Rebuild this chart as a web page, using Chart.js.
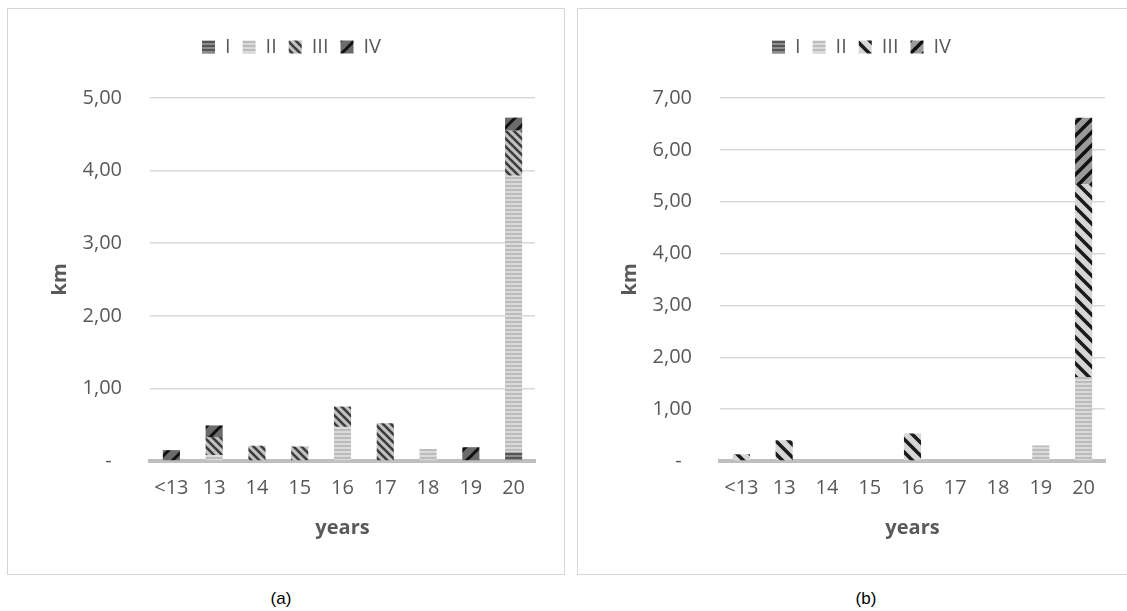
<!DOCTYPE html>
<html>
<head>
<meta charset="utf-8">
<script src="https://cdn.jsdelivr.net/npm/chart.js@4.4.1/dist/chart.umd.min.js"></script>
<style>
  html, body { margin: 0; padding: 0; background: #fff; width: 1127px; height: 611px; overflow: hidden; position: relative; }
  .box { position: absolute; top: 8px; width: 556px; height: 565px; border: 1px solid #d6d6d6; background: #fff; }
  #boxA { left: 7px; }
  #boxB { left: 577px; }
  .box canvas { position: absolute; left: 0; top: 0; }
  .cap { position: absolute; top: 589px; font-family: "Liberation Sans", Arial, sans-serif; font-size: 17px; color: #000; transform: translateX(-50%); }
</style>
</head>
<body>
<div class="box" id="boxA"><canvas id="cA" width="556" height="565"></canvas></div>
<div class="box" id="boxB"><canvas id="cB" width="556" height="565"></canvas></div>
<div class="cap" style="left:281px">(a)</div>
<div class="cap" style="left:866px">(b)</div>
<script>
// ---- data ----
const categories = ['<13', '13', '14', '15', '16', '17', '18', '19', '20'];
const seriesNames = ['I', 'II', 'III', 'IV'];

const a_I   = [0, 0, 0, 0, 0, 0, 0, 0, 0.12];
const a_II  = [0, 0.08, 0, 0, 0.47, 0, 0.165, 0, 3.81];
const a_III = [0, 0.25, 0.21, 0.20, 0.28, 0.52, 0, 0, 0.62];
const a_IV  = [0.15, 0.16, 0, 0, 0, 0, 0, 0.19, 0.18];

const b_I   = [0, 0, 0, 0, 0, 0, 0, 0, 0];
const b_II  = [0, 0, 0, 0, 0, 0, 0, 0.30, 1.62];
const b_III = [0.13, 0.40, 0, 0, 0.53, 0, 0, 0, 3.72];
const b_IV  = [0, 0, 0, 0, 0, 0, 0, 0, 1.28];

const yTicksA = [0, 1, 2, 3, 4, 5];
const yTicksB = [0, 1, 2, 3, 4, 5, 6, 7];

// ---- patterns ----
function makePattern(bg, fg, size, lw, type) {
  const c = document.createElement('canvas');
  c.width = size; c.height = size;
  const g = c.getContext('2d');
  g.fillStyle = bg; g.fillRect(0, 0, size, size);
  if (type === 'h') {
    g.fillStyle = fg; g.fillRect(0, 0, size, lw);
  } else {
    g.strokeStyle = fg; g.lineWidth = lw; g.lineCap = 'square';
    g.beginPath();
    for (const k of [-size, 0, size]) {
      if (type === '/') { g.moveTo(k, size); g.lineTo(k + size, 0); }
      else { g.moveTo(k, 0); g.lineTo(k + size, size); }
    }
    g.stroke();
  }
  return g.createPattern(c, 'repeat');
}

const txt = '#595959';
Chart.defaults.font.family = "'Open Sans', sans-serif";
Chart.defaults.color = txt;

const legendMargin = {
  id: 'legendMargin',
  beforeInit(chart) {
    const orig = chart.legend.fit;
    chart.legend.fit = function () { orig.call(this); this.height += 31; };
  }
};

function build(id, data, fills, yMax) {
  const datasets = data.map((d, i) => ({
    label: seriesNames[i],
    data: d,
    backgroundColor: fills[i],
    borderWidth: 0,
    categoryPercentage: 1.0,
    barPercentage: 0.4
  }));
  return new Chart(document.getElementById(id), {
    type: 'bar',
    data: { labels: categories, datasets },
    plugins: [legendMargin],
    options: {
      responsive: false,
      animation: false,
      devicePixelRatio: 1,
      layout: { padding: { top: 16, right: 29, left: 40, bottom: 0 } },
      plugins: {
        legend: {
          position: 'top',
          labels: { boxWidth: 13, boxHeight: 13, padding: 12, color: txt, font: { size: 20 } }
        },
        tooltip: { enabled: false }
      },
      scales: {
        x: {
          stacked: true,
          grid: { display: false, drawTicks: false },
          border: { display: true, color: '#bfbfbf', width: 4 },
          ticks: { color: txt, font: { size: 20 }, padding: 15, maxRotation: 0 },
          title: { display: true, text: 'years', color: txt, font: { size: 20, weight: 'bold' }, padding: { top: 34, bottom: 34 } },
          afterFit(s) { s.height = 113; }
        },
        y: {
          stacked: true,
          min: 0, max: yMax,
          afterBuildTicks(s) { s.ticks = (yMax === 5 ? yTicksA : yTicksB).map(v => ({ value: v })); },
          grid: { color: '#d9d9d9', lineWidth: 1.5, drawTicks: false },
          border: { display: false },
          ticks: {
            color: txt, font: { size: 20 }, padding: 28,
            callback: v => v === 0 ? '-  ' : v.toFixed(2).replace('.', ',')
          },
          title: { display: true, text: 'km', color: txt, font: { size: 20, weight: 'bold' }, padding: { top: 0, bottom: 0 } },
          afterFit(s) { s.width = 102; }
        }
      }
    }
  });
}

const fillsA = [
  makePattern('#8c8c8c', '#555555', 4, 2, 'h'),
  makePattern('#dadada', '#bcbcbc', 4, 2, 'h'),
  makePattern('#c2c2c2', '#3c3c3c', 8, 2.6, '\\'),
  makePattern('#6b6b6b', '#111111', 14, 3, '/')
];
const fillsB = [
  makePattern('#8c8c8c', '#555555', 4, 2, 'h'),
  makePattern('#dadada', '#bcbcbc', 4, 2, 'h'),
  makePattern('#d6d6d6', '#1a1a1a', 13, 3.5, '\\'),
  makePattern('#9a9a9a', '#111111', 13, 3.5, '/')
];

build('cA', [a_I, a_II, a_III, a_IV], fillsA, 5);
build('cB', [b_I, b_II, b_III, b_IV], fillsB, 7);
</script>
</body>
</html>
